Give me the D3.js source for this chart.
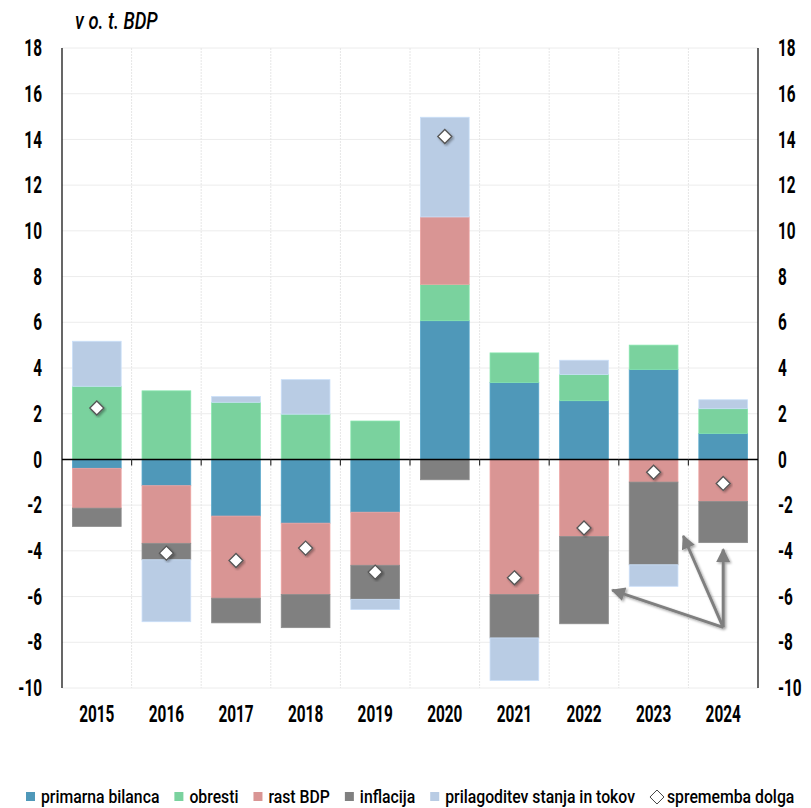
<!DOCTYPE html>
<html>
<head>
<meta charset="utf-8">
<script src="https://cdn.jsdelivr.net/npm/d3@7"></script>
<style>
  body { margin: 0; background: #fff; }
  text { font-family: Roboto, "DejaVu Sans Condensed", sans-serif; }
</style>
</head>
<body>
<svg id="chart" width="811" height="808"></svg>
<script>
//Data//
//Years on the x axis
const years = ["2015","2016","2017","2018","2019","2020","2021","2022","2023","2024"];
//Contributions to the change of debt, in % of GDP
const primarnaBilanca = [-0.39, -1.15, -2.48, -2.79, -2.31, 6.07, 3.37, 2.57, 3.94, 1.14];
const obresti         = [ 3.20,  3.00,  2.50,  1.98,  1.68, 1.59, 1.29, 1.15, 1.06, 1.08];
const rastBDP         = [-1.74, -2.52, -3.59, -3.12, -2.32, 2.95,-5.91,-3.37,-0.99,-1.84];
const inflacija       = [-0.80, -0.72, -1.08, -1.45, -1.49,-0.89,-1.90,-3.82,-3.62,-1.80];
const prilagoditev    = [ 1.97, -2.71,  0.25,  1.51, -0.45, 4.36,-1.86, 0.62,-0.94, 0.39];
//Change of debt (diamonds)
const spremembaDolga  = [ 2.25, -4.10, -4.42, -3.88, -4.93,14.13,-5.18,-3.00,-0.56,-1.05];
//Series labels and colours
const seriesKeys   = ["pb","obr","rast","infl","pril"];
const seriesLabels = ["primarna bilanca","obresti","rast BDP","inflacija","prilagoditev stanja in tokov"];
const seriesColors = ["#4f98b9","#7ad29e","#d99594","#808080","#b9cce4"];
const diamondLabel = "sprememba dolga";
//Y axis ticks
const yTicks = d3.range(-10, 19, 2);
//Arrow annotation (year, position inside the band, value)
const arrowFrom = {year: "2024", pos: 0.5, value: -7.35};
const arrowTo = [
  {year: "2022", pos: 1.08, value: -5.72},
  {year: "2023", pos: 1.11, value: -3.35},
  {year: "2024", pos: 0.5,  value: -3.94}
];

const svg = d3.select("#chart");
const m = {left: 62, right: 53, top: 48, bottom: 120};
const W = 811, H = 808;

//Squeeze text horizontally, the original uses a condensed face
function condense(sel, k){
  sel.each(function(){
    const len = this.getComputedTextLength();
    d3.select(this)
      .attr("textLength", len * k)
      .attr("lengthAdjust", "spacingAndGlyphs");
  });
}

const x = d3.scaleBand()
  .domain(years)
  .range([m.left, W - m.right])
  .paddingInner(0.3)
  .paddingOuter(0.15);

const y = d3.scaleLinear()
  .domain([-10, 18])
  .range([H - m.bottom, m.top]);

//Rows for the stack
const rows = years.map(function(yr, i){
  return {year: yr, pb: primarnaBilanca[i], obr: obresti[i], rast: rastBDP[i], infl: inflacija[i], pril: prilagoditev[i]};
});
const stacked = d3.stack()
  .keys(seriesKeys)
  .offset(d3.stackOffsetDiverging)(rows);

//Shadow filter for arrows and diamonds
const defs = svg.append("defs");
const f = defs.append("filter").attr("id", "shadow").attr("x", "-20%").attr("y", "-20%").attr("width", "140%").attr("height", "140%");
f.append("feDropShadow").attr("dx", 1.5).attr("dy", 1.5).attr("stdDeviation", 1.2).attr("flood-color", "#000").attr("flood-opacity", 0.35);
defs.append("marker")
  .attr("id", "arrowHead")
  .attr("viewBox", "0 0 10 10")
  .attr("refX", 9).attr("refY", 5)
  .attr("markerUnits", "userSpaceOnUse")
  .attr("markerWidth", 15).attr("markerHeight", 14)
  .attr("orient", "auto")
  .append("path")
  .attr("d", "M0,0 L10,5 L0,10 Z")
  .attr("fill", "#7f7f7f");

//Grid
const grid = svg.append("g");
grid.selectAll(".hgrid")
  .data(yTicks)
  .enter().append("line")
  .attr("x1", m.left).attr("x2", W - m.right)
  .attr("y1", function(d){ return y(d); })
  .attr("y2", function(d){ return y(d); })
  .attr("stroke", "#ececec")
  .attr("stroke-width", 1);
const step = x.step();
const bounds = d3.range(1, years.length).map(function(i){ return m.left + i * step; });
grid.selectAll(".vgrid")
  .data(bounds)
  .enter().append("line")
  .attr("x1", function(d){ return d; }).attr("x2", function(d){ return d; })
  .attr("y1", m.top).attr("y2", H - m.bottom)
  .attr("stroke", "#e6e6e6")
  .attr("stroke-dasharray", "2,1")
  .attr("stroke-width", 1);

//Bars
svg.append("g")
  .selectAll("g")
  .data(stacked)
  .enter().append("g")
  .attr("fill", function(d, i){ return seriesColors[i]; })
  .attr("stroke", function(d, i){ return d3.color(seriesColors[i]).brighter(0.25); })
  .attr("stroke-width", 0.8)
  .selectAll("rect")
  .data(function(d){ return d; })
  .enter().append("rect")
  .attr("x", function(d){ return x(d.data.year); })
  .attr("width", x.bandwidth())
  .attr("y", function(d){ return y(Math.max(d[0], d[1])); })
  .attr("height", function(d){ return Math.abs(y(d[0]) - y(d[1])); });

//Axis lines
svg.append("line")
  .attr("x1", m.left).attr("x2", m.left)
  .attr("y1", m.top).attr("y2", H - m.bottom)
  .attr("stroke", "#000").attr("stroke-width", 1.2);
svg.append("line")
  .attr("x1", W - m.right).attr("x2", W - m.right)
  .attr("y1", m.top).attr("y2", H - m.bottom)
  .attr("stroke", "#000").attr("stroke-width", 1.2);
svg.append("line")
  .attr("x1", m.left).attr("x2", W - m.right)
  .attr("y1", y(0)).attr("y2", y(0))
  .attr("stroke", "#000").attr("stroke-width", 1.4);
svg.selectAll(".ztick")
  .data(bounds)
  .enter().append("line")
  .attr("x1", function(d){ return d; }).attr("x2", function(d){ return d; })
  .attr("y1", y(0)).attr("y2", y(0) + 6)
  .attr("stroke", "#333").attr("stroke-width", 1.2);

//Tick labels
const fmt = function(d){ return String(d); };
const yLeft = svg.append("g")
  .attr("transform", "translate(" + m.left + ",0)")
  .call(d3.axisLeft(y).tickValues(yTicks).tickFormat(fmt).tickSize(0).tickPadding(20));
const yRight = svg.append("g")
  .attr("transform", "translate(" + (W - m.right) + ",0)")
  .call(d3.axisRight(y).tickValues(yTicks).tickFormat(fmt).tickSize(0).tickPadding(20));
const xAxis = svg.append("g")
  .attr("transform", "translate(0," + (H - m.bottom) + ")")
  .call(d3.axisBottom(x).tickSize(0).tickPadding(17));
[yLeft, yRight, xAxis].forEach(function(a){
  a.select(".domain").remove();
  a.attr("font-family", null).attr("font-size", null);
  a.selectAll("text")
    .style("font-size", "24px")
    .style("font-weight", "bold")
    .attr("fill", "#000")
    .call(condense, 0.64);
});

//Arrows
const ax = function(p){ return x(p.year) + p.pos * x.bandwidth(); };
svg.append("g")
  .attr("filter", "url(#shadow)")
  .selectAll("line")
  .data(arrowTo)
  .enter().append("line")
  .attr("x1", ax(arrowFrom)).attr("y1", y(arrowFrom.value))
  .attr("x2", function(d){ return ax(d); })
  .attr("y2", function(d){ return y(d.value); })
  .attr("stroke", "#7f7f7f")
  .attr("stroke-width", 3)
  .attr("marker-end", "url(#arrowHead)");

//Diamonds
const diamond = "M0,-7 L7,0 L0,7 L-7,0 Z";
svg.append("g")
  .selectAll("path")
  .data(spremembaDolga)
  .enter().append("path")
  .attr("d", diamond)
  .attr("transform", function(d, i){ return "translate(" + (x(years[i]) + x.bandwidth() / 2) + "," + y(d) + ")"; })
  .attr("fill", "#fff")
  .attr("stroke", "#555")
  .attr("stroke-width", 1.3)
  .attr("filter", "url(#shadow)");

//Title
svg.append("text")
  .attr("x", 75).attr("y", 29)
  .style("font-size", "23px")
  .style("font-style", "italic")
  .style("font-weight", 500)
  .text("v o. t. BDP")
  .call(condense, 0.8);

//Legend
const legend = svg.append("g").attr("transform", "translate(0,797)");
let lx = 26;
seriesLabels.forEach(function(lab, i){
  legend.append("rect")
    .attr("x", lx).attr("y", -5)
    .attr("width", 9).attr("height", 9)
    .attr("fill", seriesColors[i]);
  const t = legend.append("text")
    .attr("x", lx + 15).attr("y", 6)
    .style("font-size", "19px")
    .style("font-weight", 500)
    .text(lab)
    .call(condense, 0.83);
  lx += 15 + (+t.attr("textLength")) + 15;
});
legend.append("path")
  .attr("d", "M0,-7 L7,0 L0,7 L-7,0 Z")
  .attr("transform", "translate(" + (lx + 7) + ",0)")
  .attr("fill", "#fff")
  .attr("stroke", "#444")
  .attr("stroke-width", 1);
legend.append("text")
  .attr("x", lx + 17).attr("y", 6)
  .style("font-size", "19px")
  .style("font-weight", 500)
  .text(diamondLabel)
  .call(condense, 0.83);
</script>
</body>
</html>
